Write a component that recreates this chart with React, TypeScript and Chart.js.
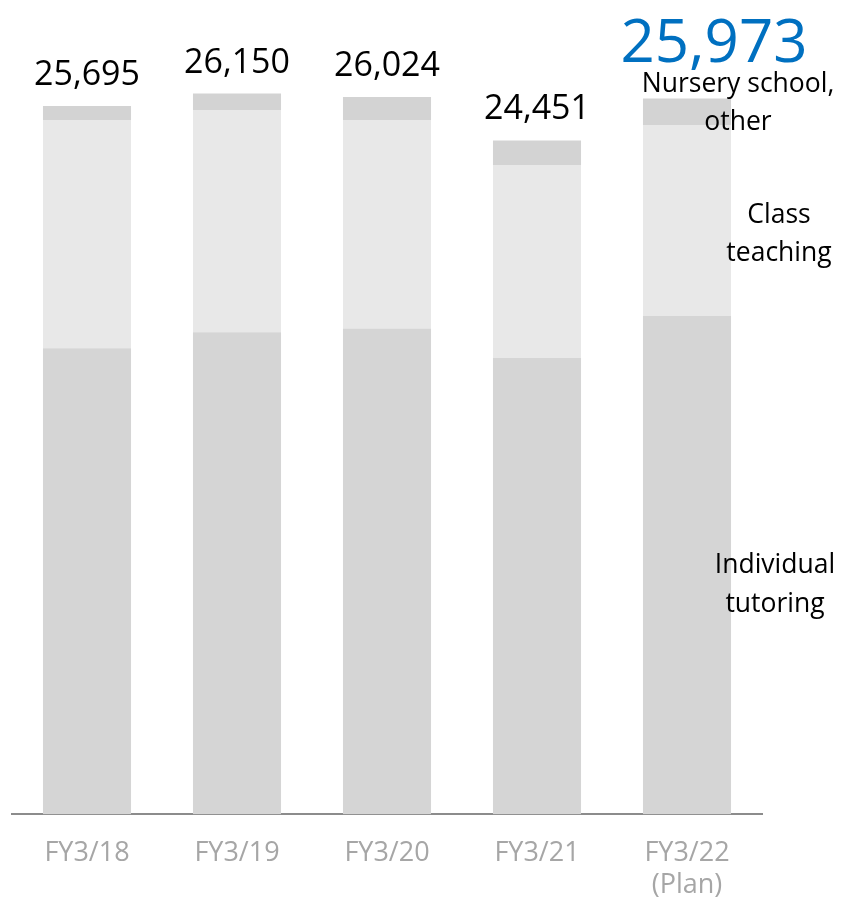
import React, { useEffect, useRef } from "react";
import { Chart, registerables } from "chart.js";

Chart.register(...registerables);

const categories: (string | string[])[] = ["FY3/18", "FY3/19", "FY3/20", "FY3/21", ["FY3/22", "(Plan)"]];
const individualTutoring = [16910, 17490, 17625, 16560, 18085];
const classTeaching = [8280, 8050, 7565, 6995, 6925];
const nurseryOther = [505, 610, 834, 896, 963];
const seriesLabels = [["Individual", "tutoring"], ["Class", "teaching"], ["Nursery school,", "other"]];
const highlightIndex = 4;

const FONT = "'Open Sans', 'Noto Sans', sans-serif";

const labelPlugin = {
  id: "labelPlugin",
  afterDatasetsDraw(chart: any) {
    const ctx = chart.ctx;
    const topMeta = chart.getDatasetMeta(2);
    ctx.save();
    ctx.textAlign = "center";
    ctx.textBaseline = "alphabetic";
    topMeta.data.forEach((bar: any, i: number) => {
      const total = individualTutoring[i] + classTeaching[i] + nurseryOther[i];
      const txt = total.toLocaleString("en-US");
      if (i === highlightIndex) {
        ctx.fillStyle = "#0070c0";
        ctx.font = `60px ${FONT}`;
        ctx.fillText(txt, bar.x + 27, bar.y - 36);
      } else {
        ctx.fillStyle = "#000000";
        ctx.font = `34px ${FONT}`;
        ctx.fillText(txt, bar.x, bar.y - 21);
      }
    });
    const last = categories.length - 1;
    const offsets = [
      { dx: 88, dy: 8 },
      { dx: 92, dy: 2.5 },
      { dx: 51, dy: -20 },
    ];
    ctx.font = `26.5px ${FONT}`;
    ctx.fillStyle = "#000000";
    for (let d = 0; d < 3; d++) {
      const el: any = chart.getDatasetMeta(d).data[last];
      const mid = (el.y + el.base) / 2;
      const lines = seriesLabels[d];
      lines.forEach((line: string, k: number) => {
        ctx.fillText(line, el.x + offsets[d].dx, mid + offsets[d].dy + k * 38.5);
      });
    }
    ctx.restore();
  },
};

export default function App() {
  const ref = useRef<HTMLCanvasElement | null>(null);
  useEffect(() => {
    if (!ref.current) return;
    const chart = new Chart(ref.current, {
      type: "bar",
      data: {
        labels: categories,
        datasets: [
          { label: "Individual tutoring", data: individualTutoring, backgroundColor: "#d5d5d5" },
          { label: "Class teaching", data: classTeaching, backgroundColor: "#e8e8e8" },
          { label: "Nursery school, other", data: nurseryOther, backgroundColor: "#d3d3d3" },
        ],
      },
      options: {
        responsive: false,
        animation: false,
        layout: { padding: { left: 12, right: 80, top: 0, bottom: -23 } },
        datasets: { bar: { barPercentage: 0.587, categoryPercentage: 1 } },
        plugins: { legend: { display: false }, tooltip: { enabled: false } },
        scales: {
          x: {
            stacked: true,
            grid: { display: false, drawTicks: false },
            border: { display: true, color: "#8c8c8c", width: 2 },
            ticks: { color: "#a6a6a6", font: { family: FONT, size: 27 }, padding: 23, maxRotation: 0 },
          },
          y: {
            stacked: true,
            display: false,
            min: 0,
            max: 29546,
          },
        },
      },
      plugins: [labelPlugin],
    });
    return () => chart.destroy();
  }, []);
  return (
    <div style={{ position: "absolute", left: 0, top: 0, width: 842, height: 902, background: "#fff" }}>
      <canvas ref={ref} width={842} height={902} style={{ display: "block" }} />
    </div>
  );
}
